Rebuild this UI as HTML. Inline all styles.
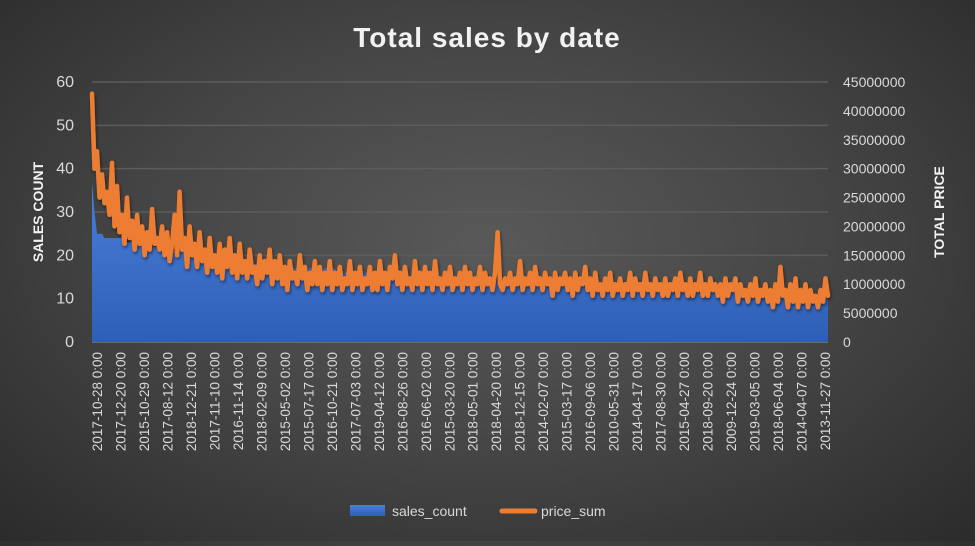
<!DOCTYPE html>
<html><head><meta charset="utf-8"><style>
html,body{margin:0;padding:0;}
body{width:975px;height:541px;overflow:hidden;background:radial-gradient(ellipse at 50% 45%,#595959 0%,#454545 50%,#2b2b2b 100%);font-family:"Liberation Sans",sans-serif;}
</style></head><body>
<svg id="chart" width="975" height="541" xmlns="http://www.w3.org/2000/svg">
<defs>
<linearGradient id="blueg" x1="0" y1="0" x2="0" y2="1"><stop offset="0" stop-color="#4a7fd8"/><stop offset="1" stop-color="#2e5fb6"/></linearGradient>
<filter id="sh" x="-5%" y="-5%" width="110%" height="120%"><feDropShadow dx="1" dy="2" stdDeviation="1.5" flood-color="#000" flood-opacity="0.5"/></filter>
</defs>
<text x="487" y="47" text-anchor="middle" fill="#f2f2f2" font-size="28" font-weight="bold" letter-spacing="1">Total sales by date</text>
<text transform="translate(43,212) rotate(-90)" text-anchor="middle" fill="#f2f2f2" font-size="14" font-weight="bold">SALES COUNT</text>
<text transform="translate(944,212) rotate(-90)" text-anchor="middle" fill="#f2f2f2" font-size="14" font-weight="bold">TOTAL PRICE</text>
<g id="grid"></g><g id="series"></g><g id="axes"></g>
<g>
<rect x="350" y="505" width="35" height="11" fill="url(#blueg)"/>
<text x="392" y="516" fill="#d9d9d9" font-size="14">sales_count</text>
<line x1="502" y1="511" x2="535" y2="511" stroke="#ed7d31" stroke-width="5" stroke-linecap="round"/>
<text x="541" y="516" fill="#d9d9d9" font-size="14">price_sum</text>
</g>
</svg>
<script>
const priceM = [43,30,33,25,29,24,26,22,31,20,
27,19,22,17,25,18,21,16,22,17,20,15,19,16,23,17,18,16,20,15,
19,14,17,22,15,26,16,18,13,20,15,17,13,19,14,16,12,18,13,15,
12,17,11,16,13,18,12,15,11,17,12,14,11,16,12,13,10,15,11,14,
12,16,10,14,11,15,10,13,9,14,11,12,10,15,11,13,9,12,10,14,
10,13,9,12,10,14,9,12,10,13,9,11,10,14,9,12,10,13,9,11,
10,13,9,12,9,14,10,12,9,13,11,15,10,12,9,13,10,11,9,14,
10,12,9,13,10,12,9,14,10,11,9,12,10,13,9,11,10,12,9,13,
10,12,9,11,10,13,9,12,10,11,9,12,19,10,9,11,10,12,9,11,
10,14,9,11,10,12,9,13,10,11,9,12,10,11,8,12,9,11,10,12,
9,11,8,12,9,11,10,13,9,11,8,12,9,10,8,11,9,12,8,10,
9,11,8,10,9,12,8,11,9,10,8,12,9,10,8,11,9,10,8,11,
8,10,9,11,8,12,9,10,8,11,8,10,9,12,8,10,8,11,9,10,
8,10,7,11,8,10,9,11,7,10,8,9,7,10,8,11,7,9,8,10,
7,9,6,10,7,13,8,9,6,10,7,11,6,9,7,10,6,9,7,8,6,9,7,11,8];
const countValues = [37,30,25,25,25,24,23,22,21,20,19,18,17,16,15,14,13,12,11];
const countRuns   = [1,1,1,1,1,8,8,8,10,10,12,12,25,27,35,35,35,35,40];
const xLabels = ["2017-10-28 0:00","2017-12-20 0:00","2015-10-29 0:00","2017-08-12 0:00","2018-12-21 0:00","2017-11-10 0:00","2016-11-14 0:00","2018-02-09 0:00","2015-05-02 0:00","2015-07-17 0:00","2016-10-21 0:00","2017-07-03 0:00","2019-04-12 0:00","2016-08-26 0:00","2016-06-02 0:00","2015-03-20 0:00","2018-05-01 0:00","2018-04-20 0:00","2018-12-15 0:00","2014-02-07 0:00","2015-03-17 0:00","2016-09-06 0:00","2010-05-31 0:00","2014-04-17 0:00","2017-08-30 0:00","2015-04-27 0:00","2018-09-20 0:00","2009-12-24 0:00","2019-03-05 0:00","2018-06-04 0:00","2014-04-07 0:00","2013-11-27 0:00"];
const leftTicks = [0,10,20,30,40,50,60];
const rightTicks = [0,5000000,10000000,15000000,20000000,25000000,30000000,35000000,40000000,45000000];

const NS="http://www.w3.org/2000/svg";
const X0=92,X1=828,Y0=342,Y1=82;
const counts=[];
countValues.forEach((v,i)=>{for(let k=0;k<countRuns[i];k++)counts.push(v);});
const N=priceM.length;
const xs=i=>X0+(X1-X0)*i/(N-1);
const yL=v=>Y0-(Y0-Y1)*v/60;
const yR=v=>Y0-(Y0-Y1)*v/45000000;
function mk(tag,attrs,parent){const e=document.createElementNS(NS,tag);for(const k in attrs)e.setAttribute(k,attrs[k]);parent.appendChild(e);return e;}
const grid=document.getElementById('grid'),axes=document.getElementById('axes'),ser=document.getElementById('series');
leftTicks.forEach(t=>{
  const l=mk('line',{x1:X0,x2:X1,y1:yL(t),y2:yL(t),stroke:t===0?'#6a6a6a':'#5c5c5c','stroke-width':t===0?2:1.5},grid);
  
  
  const tx=mk('text',{x:74,y:yL(t)+5,'text-anchor':'end',fill:'#d9d9d9','font-size':16},axes);
  tx.textContent=t;
  
  
});
rightTicks.forEach(t=>{
  const tx=mk('text',{x:843,y:yR(t)+5,fill:'#d9d9d9','font-size':14},axes);
  tx.textContent=t;
  
  
});
const L=xLabels.length;
xLabels.forEach((s,i)=>{
  const x=97+(825-97)*i/(L-1);
  const tx=mk('text',{transform:`translate(${x+5},352) rotate(-90)`,'text-anchor':'end',fill:'#d9d9d9','font-size':13.5},axes);
  tx.textContent=s;
  
  
});
let d=`M${X0},${Y0}`;
for(let i=0;i<N;i++){d+=` L${xs(i).toFixed(1)},${yL(counts[Math.min(i,counts.length-1)]).toFixed(1)}`;}
d+=` L${X1},${Y0} Z`;
const area=mk('path',{d:d,fill:'url(#blueg)'},ser);


let p='';
priceM.forEach((v,i)=>{p+=(i?' L':'M')+xs(i).toFixed(1)+','+yR(v*1e6).toFixed(1);});
const line=mk('path',{d:p,fill:'none',stroke:'#ed7d31','stroke-width':4.5,'stroke-linejoin':'round','stroke-linecap':'round',filter:'url(#sh)'},ser);


</script>
</body></html>
